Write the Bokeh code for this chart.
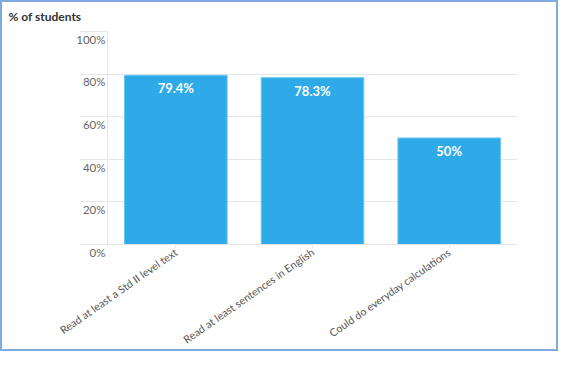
import math
from bokeh.plotting import figure
from bokeh.models import (ColumnDataSource, FactorRange, Range1d, FixedTicker,
                          LabelSet, Title)
from bokeh.core.properties import value
from bokeh.embed import file_html
from bokeh.resources import INLINE

categories = ["Read at least a Std II level text",
              "Read at least sentences in English",
              "Could do everyday calculations"]
values = [79.4, 78.3, 50]
value_labels = ["79.4%", "78.3%", "50%"]
y_ticks = [0, 20, 40, 60, 80, 100]
y_tick_labels = ["0%", "20%", "40%", "60%", "80%", "100%"]

FONT = "Lato"
src = ColumnDataSource(dict(cat=categories, val=values, lab=value_labels))

p = figure(width=558, height=351, output_backend="svg", toolbar_location=None,
           x_range=FactorRange(*categories), y_range=Range1d(0, 100),
           min_border_left=105, min_border_right=43, min_border_top=26,
           min_border_bottom=60)
p.styles = {"border": "2px solid #7eaae0"}

p.add_layout(Title(text="% of students", align="left", text_font=FONT,
                   text_font_size="12px", text_font_style="bold",
                   text_color="#333333", offset=-99, standoff=12,
                   vertical_align="top"), "above")

p.vbar(x="cat", top="val", width=0.75, source=src,
       fill_color="#2eaae9", line_color="#63c3f0", line_width=1)

p.add_layout(LabelSet(x="cat", y="val", text="lab", source=src,
                      y_offset=-13, text_align="center", text_baseline="middle",
                      text_color="white", text_font=value(FONT),
                      text_font_style="bold", text_font_size="13px"))

p.xgrid.grid_line_color = None
p.ygrid.grid_line_color = "#e6e6e6"
p.ygrid.ticker = FixedTicker(ticks=y_ticks)

p.yaxis.ticker = FixedTicker(ticks=y_ticks)
p.yaxis.major_label_overrides = {t: "\n" + s for t, s in zip(y_ticks, y_tick_labels)}
p.yaxis.axis_line_color = "#e6e6e6"
p.yaxis.major_tick_out = 27
p.yaxis.major_tick_in = 0
p.yaxis.major_tick_line_color = "#e6e6e6"
p.yaxis.minor_tick_line_color = None
p.yaxis.major_label_standoff = -25
p.yaxis.major_label_text_font = FONT
p.yaxis.major_label_text_font_size = "11.5px"
p.yaxis.major_label_text_color = "#666666"

p.xaxis.axis_line_color = "#e6e6e6"
p.xaxis.major_tick_line_color = "#e6e6e6"
p.xaxis.major_tick_out = 4
p.xaxis.major_tick_in = 0
p.xaxis.major_label_orientation = math.radians(35)
p.xaxis.major_label_standoff = 2
p.xaxis.major_label_text_line_height = 0.9
p.xaxis.major_label_text_font = FONT
p.xaxis.major_label_text_font_size = "10.7px"
p.xaxis.major_label_text_color = "#555555"

p.outline_line_color = None

open("out.html", "w").write(file_html(p, INLINE))
